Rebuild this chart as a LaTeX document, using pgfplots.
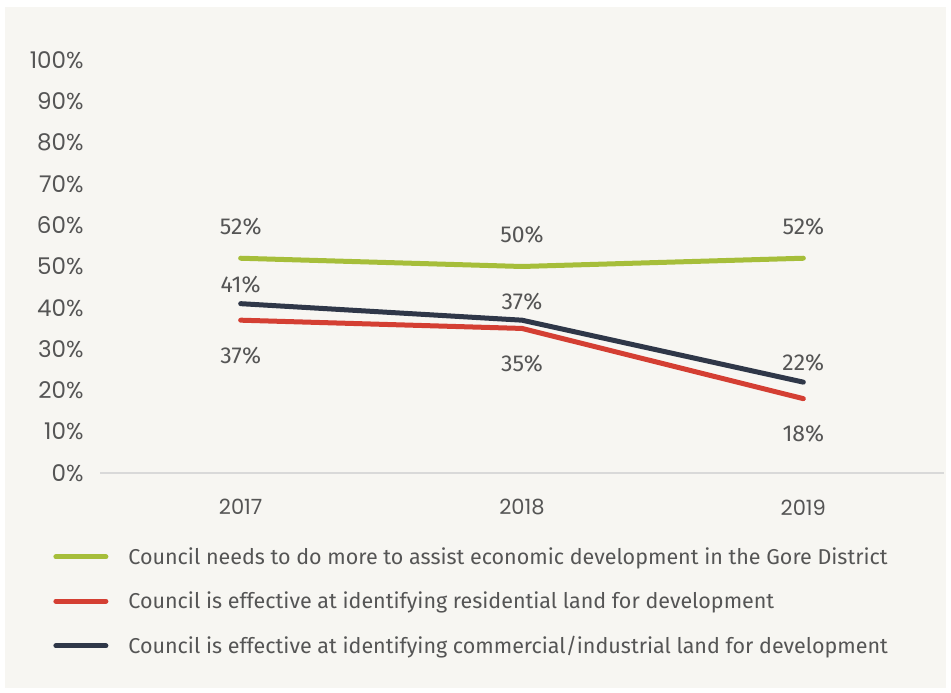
\documentclass[border=0pt]{standalone}
\usepackage{pgfplots}
\pgfplotsset{compat=1.18}
\usepackage{fontspec}
\setmainfont{Fira Sans}
\newfontfamily\tickfont{Poppins}
\definecolor{bg}{HTML}{F7F6F2}
\definecolor{cgreen}{HTML}{A6BE3A}
\definecolor{cred}{HTML}{D43F33}
\definecolor{cnavy}{HTML}{2F3748}
\definecolor{txt}{HTML}{555555}
\definecolor{axgray}{HTML}{D9D9D9}
\pgfplotsset{/pgf/number format/assume math mode=true}
\begin{document}
\begin{tikzpicture}
\fill[white] (0,0) rectangle (951pt,693pt);
\fill[bg] (5pt,5pt) rectangle (946pt,686pt);
\begin{axis}[
  at={(100pt,220pt)}, anchor=south west,
  scale only axis, width=844pt, height=413pt,
  xmin=2016.5, xmax=2019.5, ymin=0, ymax=100,
  xtick={2017,2018,2019}, ytick={0,10,...,100},
  xticklabels={2017,2018,2019},
  yticklabel={\pgfmathprintnumber{\tick}\%},
  axis x line*=bottom, axis y line*=left,
  x axis line style={-, draw=axgray, line width=1.5pt},
  y axis line style={draw=none},
  major tick length=0pt, tick style={draw=none},
  xticklabel style={font=\tickfont\fontsize{21}{21}\selectfont, text=txt, yshift=-23pt},
  yticklabel style={font=\tickfont\fontsize{23}{23}\selectfont, text=txt, xshift=-13pt},
  clip=false,
  nodes near coords={\pgfmathprintnumber{\pgfplotspointmeta}\%},
  every node near coord/.append style={font=\fontsize{23}{23}\selectfont, text=txt, anchor=center},
  legend cell align=left,
  legend style={at={(axis description cs:-0.059,-0.171)}, anchor=north west, draw=none, fill=none,
    font=\fontsize{21.5}{21.5}\selectfont, text=txt, row sep=22pt, column sep=18pt,
    nodes={inner sep=2pt, text=txt}},
  legend image code/.code={\draw[#1, line width=5pt, line cap=round] (2.5pt,0pt) -- (52.5pt,0pt);},
]
\addplot[cgreen, line width=5pt, line cap=round, every node near coord/.append style={anchor=center, yshift=32pt}]
  coordinates {(2017,52) (2018,50) (2019,52)};
\addlegendentry{Council needs to do more to assist economic development in the Gore District}
\addplot[cred, line width=5pt, line cap=round, every node near coord/.append style={anchor=center, yshift=-35pt}]
  coordinates {(2017,37) (2018,35) (2019,18)};
\addlegendentry{Council is effective at identifying residential land for development}
\addplot[cnavy, line width=5pt, line cap=round, every node near coord/.append style={anchor=center, yshift=19pt}]
  coordinates {(2017,41) (2018,37) (2019,22)};
\addlegendentry{Council is effective at identifying commercial/industrial land for development}
\end{axis}
\end{tikzpicture}
\end{document}
